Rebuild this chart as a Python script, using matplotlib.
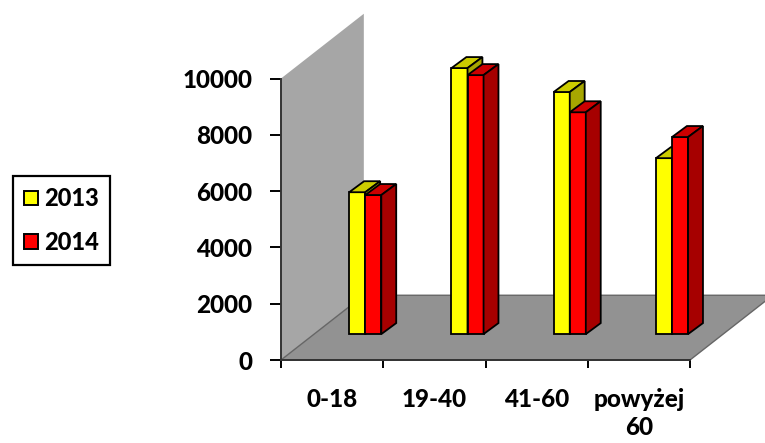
import matplotlib
matplotlib.use('Agg')
import matplotlib.pyplot as plt
from matplotlib.patches import Polygon, Patch

plt.rcParams['font.family'] = ['Lato', 'DejaVu Sans']
plt.rcParams['font.weight'] = 'black'

categories = ['0-18', '19-40', '41-60', 'powyżej\n60']
values_2013 = [5040, 9450, 8600, 6250]
values_2014 = [4940, 9200, 7880, 7000]
y_ticks = [0, 2000, 4000, 6000, 8000, 10000]

# depth of the fake 3d box, in data units
depth_x = 0.81
depth_y = 2300
bar_w = 0.157


def box(ax, x, val, w, front, top, side):
    # bar stands 40% of the way into the floor
    x0 = x + 0.4 * depth_x - w
    y0 = 0.4 * depth_y
    dx = 0.18 * depth_x
    dy = 0.17 * depth_y
    ax.bar(x0, val, w, bottom=y0, align='edge', color=front, edgecolor='black',
           linewidth=1.3, zorder=4, clip_on=False)
    ax.add_patch(Polygon([(x0, y0 + val), (x0 + w, y0 + val), (x0 + w + dx, y0 + val + dy),
                          (x0 + dx, y0 + val + dy)], fc=top, ec='black', lw=1.3, zorder=4, clip_on=False))
    ax.add_patch(Polygon([(x0 + w, y0), (x0 + w + dx, y0 + dy), (x0 + w + dx, y0 + val + dy),
                          (x0 + w, y0 + val)], fc=side, ec='black', lw=1.3, zorder=4, clip_on=False))


fig = plt.figure(figsize=(7.65, 4.43), dpi=100)
ax = fig.add_axes([281 / 765, 1 - 360 / 443, 409 / 765, 281.5 / 443])
ax.set_xlim(0, 4)
ax.set_ylim(0, 10000)

# back wall and floor
ax.add_patch(Polygon([(0, 0), (0, 10000), (depth_x, 10000 + depth_y), (depth_x, depth_y)],
                     fc='#a6a6a6', ec='none', zorder=1, clip_on=False))
ax.add_patch(Polygon([(0, 0), (4, 0), (4 + depth_x, depth_y), (depth_x, depth_y)],
                     fc='#929292', ec='#666666', lw=1, zorder=2, clip_on=False))

for i in range(len(categories)):
    box(ax, i + 0.5, values_2013[i], bar_w, '#ffff00', '#cccc00', '#a6a600')
    box(ax, i + 0.5 + bar_w, values_2014[i], bar_w, '#ff0000', '#cc0000', '#a60000')

for s in ['top', 'right']:
    ax.spines[s].set_visible(False)
ax.spines['left'].set_color('#333333')
ax.spines['bottom'].set_color('#333333')
ax.spines['left'].set_linewidth(1.4)
ax.spines['bottom'].set_linewidth(1.4)
ax.patch.set_visible(False)

ax.set_yticks(y_ticks)
ax.set_xticks(range(5))
ax.set_xticklabels([])
ax.set_xticks([i + 0.5 for i in range(4)], minor=True)
ax.set_xticklabels(categories, minor=True, va='top', linespacing=1.3)
ax.tick_params(axis='x', which='major', length=6, width=1.4, color='black')
ax.tick_params(axis='x', which='minor', length=0, pad=20, labelsize=17.5)
ax.tick_params(axis='y', length=8, width=1.4, color='black', pad=12.5, labelsize=17.5)
ax.yaxis.set_minor_locator(plt.NullLocator())

handles = [Patch(fc='#ffff00', ec='black', lw=1.4, label='2013'),
           Patch(fc='#ff0000', ec='black', lw=1.4, label='2014')]
fig.legend(handles=handles, loc='upper left', bbox_to_anchor=(13 / 765, 1 - 176 / 443),
           borderaxespad=0, fontsize=17, fancybox=False, framealpha=1, edgecolor='black',
           handlelength=0.58, handleheight=0.58, handletextpad=0.25, labelspacing=0.88,
           borderpad=0.48).get_frame().set_linewidth(1.6)

fig.savefig('out.png', dpi=100)
